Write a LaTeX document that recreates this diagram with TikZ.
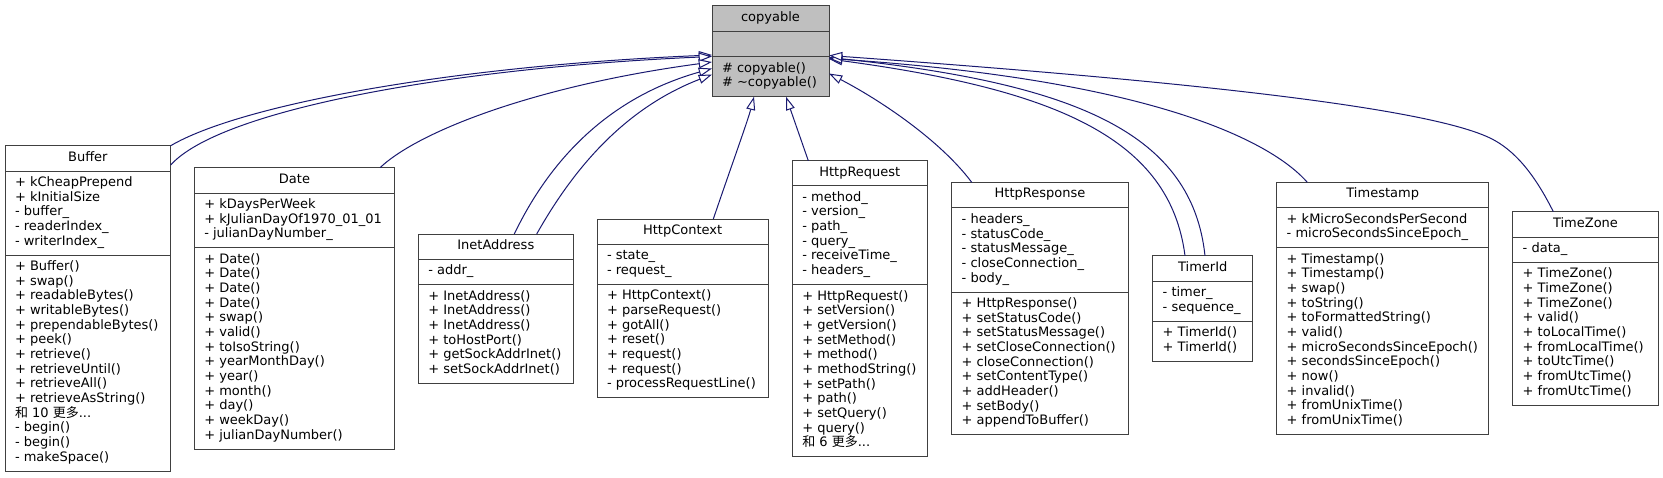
\documentclass[tikz,border=0pt]{standalone}
\usepackage{fontspec}
\setmainfont{DejaVu Sans}
\newfontfamily\cjk{Noto Sans CJK SC}
\usetikzlibrary{arrows.meta,calc}
\definecolor{edgeblue}{HTML}{191970}
\definecolor{boxline}{HTML}{404040}
\definecolor{cpgray}{HTML}{BFBFBF}
\newcommand\moreitems[1]{\smash{\cjk 和} #1 \smash{\cjk 更多}...}
\tikzset{
 clsbox/.style={draw=boxline, line width=1pt, fill=white, inner sep=0pt, outer sep=0pt, anchor=north west},
 clsline/.style={draw=boxline, line width=1pt},
 clstext/.style={inner sep=0pt, outer sep=0pt, font=\fontsize{13}{14.67}\selectfont, text=black},
 inherit/.style={draw=edgeblue, line width=1pt, -{Triangle[length=13.3pt,width=8.9pt,fill=white]}},
}
% #1 name, #2 x1, #3 x2, #4 y1, #5 d1, #6 d2, #7 y2, #8 attrs, #9 methods
\newcommand\umlclass[9]{%
  \node[clsbox, minimum width={#3-#2}, minimum height={#7-#4}] (#1) at (#2,#4) {};
  \draw[clsline] (#2,#5) -- (#3,#5) (#2,#6) -- (#3,#6);
  \node[clstext, anchor=center] (#1-t) at ({(#2+#3)/2},{(#4+#5)/2}) {\strut #1};
  \node[clstext, anchor=west] (#1-a) at ({#2+10},{(#5+#6)/2}) {\begin{tabular}{@{}l@{}}#8\end{tabular}};
  \node[clstext, anchor=west] (#1-m) at ({#2+10},{(#6+#7)/2}) {\begin{tabular}{@{}l@{}}#9\end{tabular}};
}
\begin{document}
\begin{tikzpicture}[x=1pt,y=-1pt]
\useasboundingbox (0,0) rectangle (1663,477);
\begin{scope}[clsbox/.append style={fill=cpgray}]
\umlclass{copyable}{712}{829}{5.7}{31}{56.7}{96.7}{}{\# copyable()\\ \# \textasciitilde copyable()}
\end{scope}
\umlclass{Buffer}{5}{170.7}{145.7}{171}{255}{471}
 {+ kCheapPrepend\\ + kInitialSize\\ - buffer\_\\ - readerIndex\_\\ - writerIndex\_}
 {+ Buffer()\\ + swap()\\ + readableBytes()\\ + writableBytes()\\ + prependableBytes()\\ + peek()\\ + retrieve()\\ + retrieveUntil()\\ + retrieveAll()\\ + retrieveAsString()\\ \moreitems{10}\\ - begin()\\ - begin()\\ - makeSpace()}
\umlclass{Date}{194.3}{394.7}{167.7}{193}{247.7}{449}
 {+ kDaysPerWeek\\ + kJulianDayOf1970\_01\_01\\ - julianDayNumber\_}
 {+ Date()\\ + Date()\\ + Date()\\ + Date()\\ + swap()\\ + valid()\\ + toIsoString()\\ + yearMonthDay()\\ + year()\\ + month()\\ + day()\\ + weekDay()\\ + julianDayNumber()}
\umlclass{InetAddress}{418.3}{573.3}{234}{259}{284.3}{383.3}
 {- addr\_}
 {+ InetAddress()\\ + InetAddress()\\ + InetAddress()\\ + toHostPort()\\ + getSockAddrInet()\\ + setSockAddrInet()}
\umlclass{HttpContext}{597}{768.3}{219}{244.3}{284.3}{397.7}
 {- state\_\\ - request\_}
 {+ HttpContext()\\ + parseRequest()\\ + gotAll()\\ + reset()\\ + request()\\ + request()\\ - processRequestLine()}
\umlclass{HttpRequest}{792.3}{927.3}{160.7}{185.7}{284.3}{456.7}
 {- method\_\\ - version\_\\ - path\_\\ - query\_\\ - receiveTime\_\\ - headers\_}
 {+ HttpRequest()\\ + setVersion()\\ + getVersion()\\ + setMethod()\\ + method()\\ + methodString()\\ + setPath()\\ + path()\\ + setQuery()\\ + query()\\ \moreitems{6}}
\umlclass{HttpResponse}{951.7}{1128.3}{182.3}{207.7}{292.3}{434.3}
 {- headers\_\\ - statusCode\_\\ - statusMessage\_\\ - closeConnection\_\\ - body\_}
 {+ HttpResponse()\\ + setStatusCode()\\ + setStatusMessage()\\ + setCloseConnection()\\ + closeConnection()\\ + setContentType()\\ + addHeader()\\ + setBody()\\ + appendToBuffer()}
\umlclass{TimerId}{1152.7}{1252.7}{255.7}{281}{321}{361}
 {- timer\_\\ - sequence\_}
 {+ TimerId()\\ + TimerId()}
\umlclass{Timestamp}{1276.7}{1488.7}{182.3}{207.7}{247.7}{434.3}
 {+ kMicroSecondsPerSecond\\ - microSecondsSinceEpoch\_}
 {+ Timestamp()\\ + Timestamp()\\ + swap()\\ + toString()\\ + toFormattedString()\\ + valid()\\ + microSecondsSinceEpoch()\\ + secondsSinceEpoch()\\ + now()\\ + invalid()\\ + fromUnixTime()\\ + fromUnixTime()}
\umlclass{TimeZone}{1512.7}{1658.3}{211.7}{237}{262.3}{405}
 {- data\_}
 {+ TimeZone()\\ + TimeZone()\\ + TimeZone()\\ + valid()\\ + toLocalTime()\\ + fromLocalTime()\\ + toUtcTime()\\ + fromUtcTime()\\ + fromUtcTime()}

% connectors (child -> copyable)
\draw[inherit] (Buffer.north east) .. controls (240,105) and (450,66) .. ($(copyable.north west)+(0,49.3)$);
\draw[inherit] ($(Buffer.north east)+(0,19.3)$) .. controls (220,110) and (450,68) .. ($(copyable.north west)+(0,50.8)$);
\draw[inherit] ($(Date.north west)+(185.7,0)$) .. controls (420,130) and (540,85) .. ($(copyable.north west)+(0,56.3)$);
\draw[inherit] ($(InetAddress.north west)+(96,0)$) .. controls (545,170) and (600,100) .. ($(copyable.north west)+(0,62.8)$);
\draw[inherit] ($(InetAddress.north west)+(118.4,0)$) .. controls (570,175) and (620,110) .. ($(copyable.north west)+(0,68.8)$);
\draw[inherit] ($(HttpContext.north west)+(116.3,0)$) .. controls (730,170) and (748,120) .. ($(copyable.south west)+(42,0)$);
\draw[inherit] ($(HttpRequest.north west)+(16,0)$) -- ($(copyable.south west)+(74,0)$);
\draw[inherit] ($(HttpResponse.north west)+(20,0)$) .. controls (940,140) and (880,100) .. ($(copyable.north east)+(0,67.8)$);
\draw[inherit] ($(TimerId.north west)+(32.3,0)$) .. controls (1170,140) and (1060,90) .. ($(copyable.north east)+(0,53.3)$);
\draw[inherit] ($(TimerId.north west)+(52.3,0)$) .. controls (1192,135) and (1080,84) .. ($(copyable.north east)+(0,51.8)$);
\draw[inherit] ($(Timestamp.north west)+(30.6,0)$) .. controls (1270,140) and (1150,80) .. ($(copyable.north east)+(0,52.8)$);
\draw[inherit] ($(TimeZone.north west)+(40.6,0)$) .. controls (1535,175) and (1515,150) .. (1490,138)
  .. controls (1415,102) and (1100,75) .. ($(copyable.north east)+(0,49.8)$);
\end{tikzpicture}
\end{document}
